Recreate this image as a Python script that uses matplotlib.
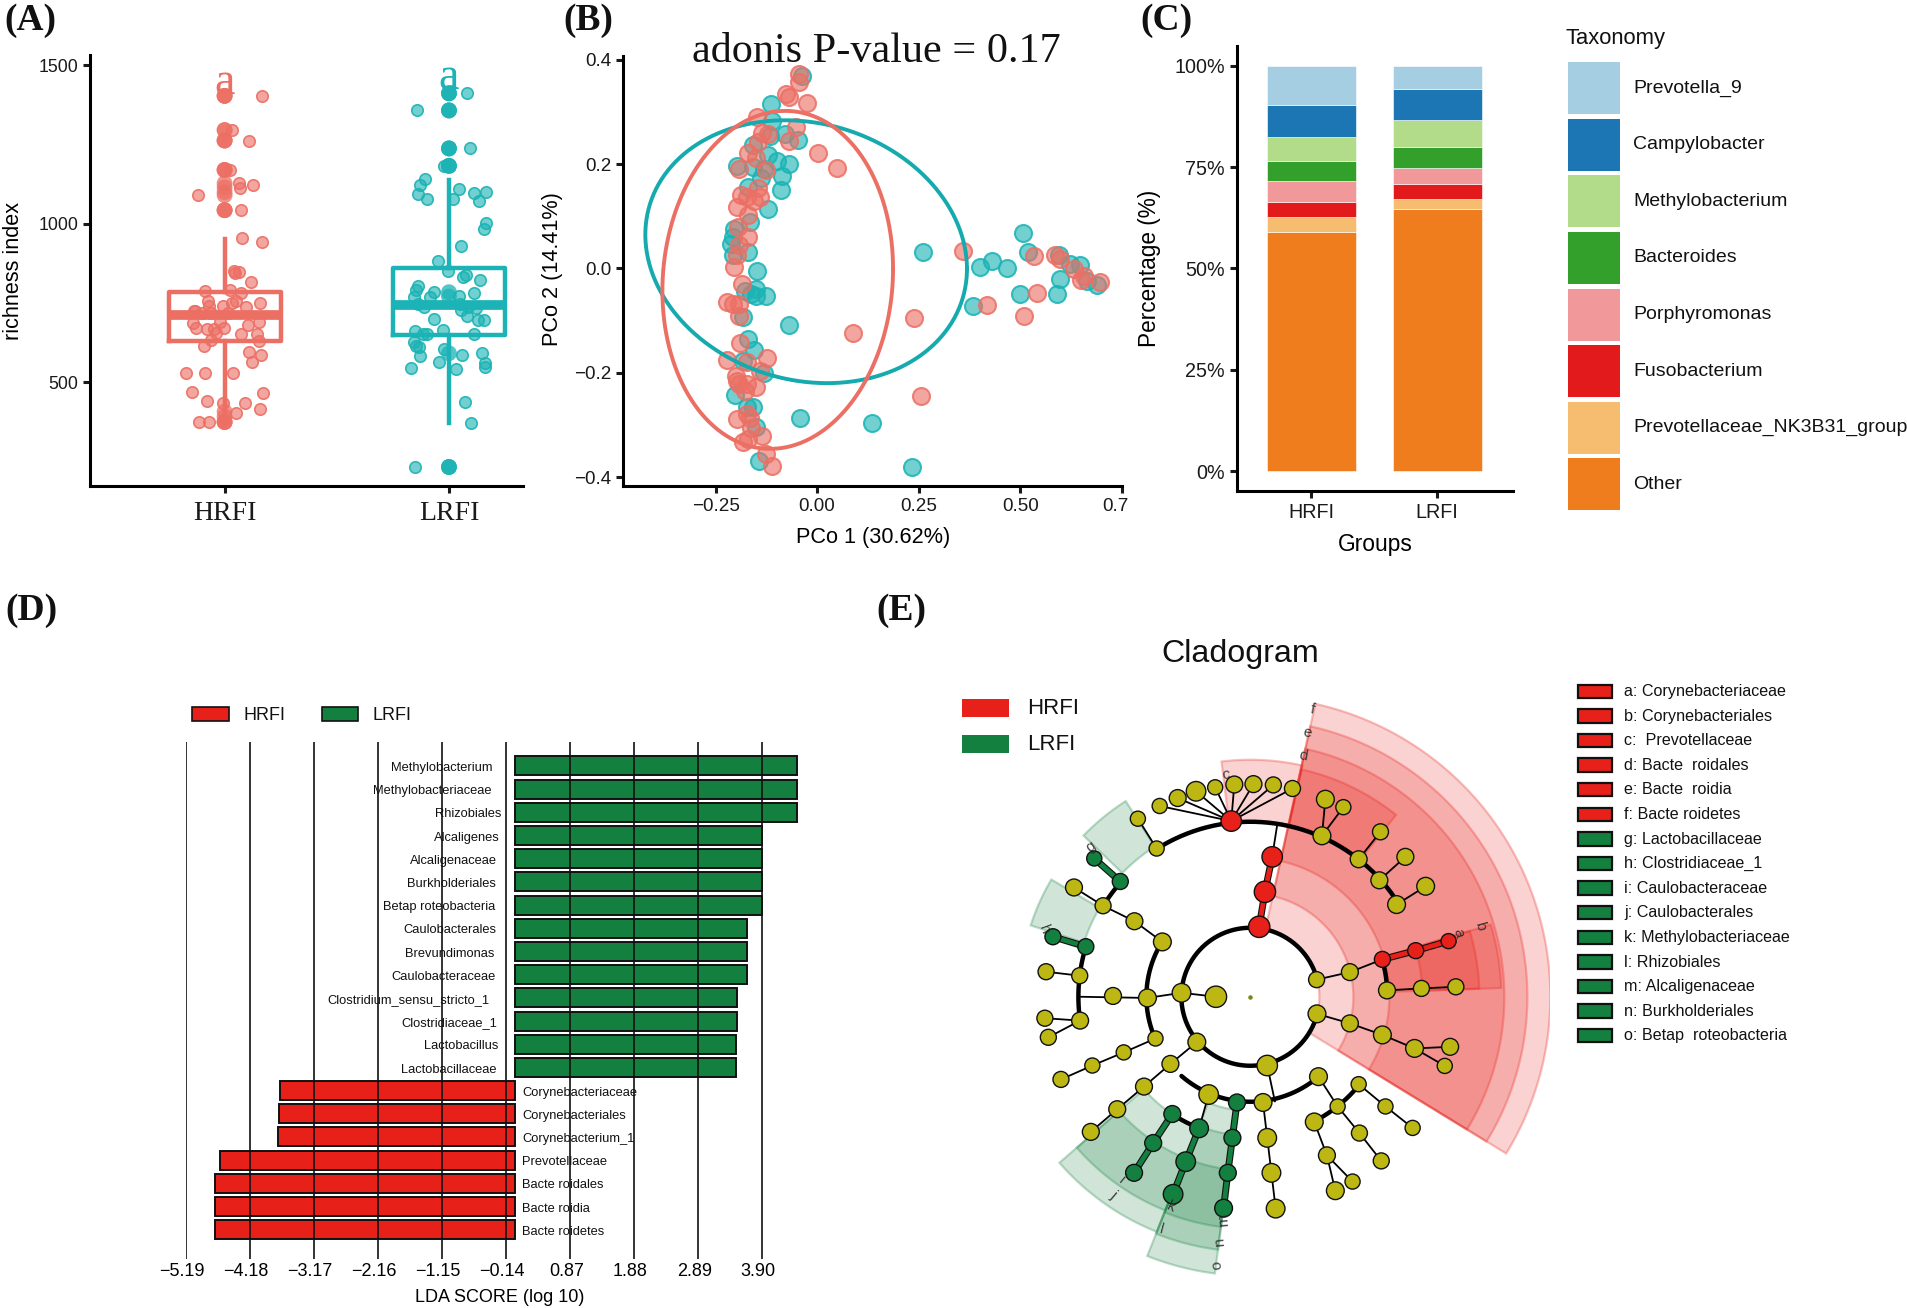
import numpy as np
import matplotlib
matplotlib.use("Agg")
import matplotlib.pyplot as plt
from matplotlib.colors import to_rgba
from matplotlib.patches import Rectangle
from matplotlib.transforms import ScaledTranslation

plt.rcParams['font.family'] = ['Liberation Sans', 'DejaVu Sans']

W, H = 1908, 1308
SALMON, TEAL = '#EC6F64', '#1BB3B5'
RED, GREEN = '#E8201A', '#148040'
OLIVE = '#BDB714'

# ---- Panel A: richness index ----
groups_a = ['HRFI', 'LRFI']
hrfi_jit = [.165,0,0,0,.033,0,0,0,0,0,.11,.022,0,0,0,.065,.125,.067,0,0,0,0,-.12,.075,0,0,0,.076,.165,.041,.062,.046,.116,.025,
            -.086,-.073,-.07,.075,.156,.033,.05,-.006,.097,-.138,.017,-.134,-.102,-.14,-.129,-.078,-.046,-.003,-.038,-.062,-.022,
            .105,.153,.145,.073,.153,-.094,-.062,.108,.161,.122,-.17,-.086,.038,-.146,.169,-.078,-.006,.089,.157,.049,0,0,0,0,0,-.114,-.07]
hrfi_val = [1404,1404,1404,1404,1296,1296,1296,1263,1263,1263,1263,1170,1170,1170,1170,1128,1124,1113,1128,1115,1100,1090,1090,1043,1043,1043,1043,
            956,944,852,849,844,817,790,787,757,740,781,749,751,757,740,737,724,718,724,718,686,672,669,669,672,656,718,691,680,689,653,653,631,615,634,
            595,587,563,530,529,530,470,467,440,434,434,415,401,407,391,374,374,374,374,374]
lrfi_jit = [.08,0,0,0,-.143,0,0,0,0,0,0,.092,-.02,0,0,0,-.108,-.127,.046,.165,.111,-.14,-.1,.016,.135,.165,.156,.054,-.048,-.006,.078,.064,.14,
            -.137,-.148,-.068,0,.111,-.156,-.084,0,.043,-.137,-.111,.05,.083,.122,.054,-.068,.08,.13,.154,-.025,-.153,-.116,-.1,.111,-.156,-.148,-.132,
            -.02,0,-.127,.059,.146,-.045,.162,.159,-.169,.03,.072,.099,-.151,0,0,0]
lrfi_val = [1412,1412,1412,1412,1358,1358,1358,1358,1238,1238,1238,1238,1183,1183,1183,1183,1143,1123,1110,1100,1096,1093,1079,1077,1072,1003,984,929,882,850,839,831,821,
            804,792,784,784,781,768,768,770,773,748,737,746,737,735,729,700,708,697,697,666,661,653,653,653,628,615,612,606,591,582,587,593,563,560,549,544,542,
            438,370,232,232,232,232]
box_med = [713, 743]
box_q1 = [631, 650]
box_q3 = [784, 860]
box_lo = [369, 372]
box_hi = [953, 1139]

# ---- Panel B: PCoA ----
b_teal_x = [-.038,-.113,-.11,-.079,-.117,-.046,-.159,-.12,-.1,-.07,-.197,-.159,-.131,-.087,-.138,-.169,-.089,-.12,-.166,-.204,-.206,-.213,-.169,-.206,-.147,
            -.178,-.15,-.126,-.164,-.15,-.183,-.069,-.169,-.155,-.183,-.131,-.202,-.159,-.173,-.041,-.15,.135,-.143,.234,.26,.4,.43,.467,.507,.519,.595,.623,.647,.598,.499,.59,.383,.689,.665]
b_teal_y = [.368,.315,.282,.257,.253,.246,.236,.218,.205,.2,.196,.195,.191,.178,.173,.157,.15,.114,.088,.076,.061,.047,.032,.025,-.005,
            -.043,-.039,-.053,-.05,-.053,-.094,-.109,-.136,-.156,-.177,-.201,-.242,-.266,-.266,-.287,-.304,-.297,-.369,-.38,.031,.002,.014,.001,.067,.031,.025,.009,.006,-.021,-.05,-.05,-.072,-.032,-.025]
b_salm_x = [-.044,-.044,-.076,-.07,-.025,-.148,-.051,-.136,-.122,-.145,-.07,-.171,-.15,.002,.049,-.192,-.126,-.145,-.188,-.14,-.173,-.155,-.197,-.169,-.194,-.169,-.192,-.197,-.205,-.185,
            -.221,-.206,-.192,-.192,-.189,-.173,-.123,-.221,-.14,-.2,-.197,-.15,-.173,-.178,-.192,-.173,-.197,-.166,-.164,-.136,-.183,-.169,-.126,-.112,.359,.418,.239,.089,.255,.509,.541,.533,.587,.599,.632,.651,.656,.696]
b_salm_y = [.372,.358,.335,.329,.318,.291,.271,.26,.257,.243,.245,.222,.212,.221,.192,.19,.188,.154,.14,.136,.136,.129,.117,.102,.08,.061,.045,.025,.002,-.03,
            -.065,-.069,-.069,-.092,-.143,-.179,-.171,-.175,-.196,-.207,-.216,-.227,-.222,-.235,-.222,-.28,-.289,-.287,-.306,-.322,-.332,-.328,-.356,-.378,.033,-.07,-.096,-.124,-.244,-.092,-.048,.023,.026,.018,-.001,-.022,-.014,-.027]
# ellipse: centre x, centre y, half-width, half-height, skew
ell_teal = (-.027, .032, .396, .252, -.13)
ell_salm = (-.097, -.022, .284, .324, .065)

# ---- Panel C: composition ----
taxa = ['Other', 'Prevotellaceae_NK3B31_group', 'Fusobacterium', 'Porphyromonas', 'Bacteroides',
        'Methylobacterium', 'Campylobacter', 'Prevotella_9']
taxa_colors = ['#EF7D1E', '#F6BC70', '#E31A1C', '#F1989B', '#33A02C', '#B2DB8A', '#1C76B4', '#A6CEE3']
hrfi_pct = [58.9, 3.9, 3.5, 5.2, 5.1, 5.8, 7.8, 9.8]
lrfi_pct = [64.6, 2.5, 3.7, 3.9, 5.2, 6.6, 7.8, 5.7]

# ---- Panel D: LDA ----
lda_names = ['Methylobacterium', 'Methylobacteriaceae', 'Rhizobiales', 'Alcaligenes', 'Alcaligenaceae', 'Burkholderiales',
             'Betap roteobacteria', 'Caulobacterales', 'Brevundimonas', 'Caulobacteraceae', 'Clostridium_sensu_stricto_1',
             'Clostridiaceae_1', 'Lactobacillus', 'Lactobacillaceae', 'Corynebacteriaceae', 'Corynebacteriales',
             'Corynebacterium_1', 'Prevotellaceae', 'Bacte roidales', 'Bacte roidia', 'Bacte roidetes']
lda_vals = [4.447, 4.447, 4.447, 3.894, 3.894, 3.894, 3.894, 3.655, 3.655, 3.655, 3.506, 3.506, 3.49, 3.49,
            -3.71, -3.73, -3.745, -4.66, -4.74, -4.74, -4.74]
lda_ticks = [-5.19, -4.18, -3.17, -2.16, -1.15, -0.14, 0.87, 1.88, 2.89, 3.90]
lda_name_end = [-.355, -.371, -.223, -.239, -.28, -.297, -.313, -.289, -.322, -.305, -.396, -.28, -.264, -.297]

# ---- Panel E: cladogram (node positions as read, radius in the same units) ----
yellow_nodes = [(895,273,18),(845,264,18),(793,262,19),(743,263,19),(693,270,17),(643,280,22),(595,297,19),(548,317,17),(491,349,17),(540,424,17),
    (324,522,19),(400,568,18),(482,607,19),(555,659,20),(251,734,18),(339,744,18),(426,795,19),(516,800,20),(605,787,21),(695,797,24),(248,851,18),(340,857,19),
    (257,899,18),(537,902,17),(454,937,17),(372,970,17),(290,1005,18),(645,911,20),(576,966,19),(507,1023,19),(437,1080,19),(368,1137,19),(676,1043,22),
    (818,1063,20),(829,970,23),(829,1152,21),(840,1240,21),(851,1330,21),(963,998,20),(1068,1017,17),(1013,1073,17),(1138,1073,17),(1209,1127,17),(952,1112,20),
    (1070,1140,18),(1127,1210,18),(985,1196,19),(1052,1262,17),(1007,1285,20),(958,754,18),(1045,735,19),(1142,781,19),(1232,776,18),(1322,772,18),(959,840,20),
    (1045,864,19),(1130,893,20),(1214,927,20),(1307,923,19),(1293,971,17),(972,392,20),(981,300,20),(1028,320,17),(1068,451,19),(1125,382,18),(1122,504,19),
    (1190,445,19),(1167,565,20),(1243,519,20)]
red_nodes = [(735,355,23),(842,445,23),(823,533,24),(808,621,24),(1130,703,18),(1217,681,18),(1303,657,17)]
green_nodes = [(377,449,17),(445,507,18),(269,646,18),(355,671,18),(581,1092,19),(651,1128,21),(531,1165,19),(616,1212,22),(481,1240,19),(583,1294,22),
    (750,1063,19),(738,1152,19),(726,1240,19),(715,1329,20)]
thin_chains = [[(735,355),(895,273)],[(735,355),(845,264)],[(735,355),(793,262)],[(735,355),(743,263)],[(735,355),(693,270)],[(735,355),(643,280)],
    [(735,355),(595,297)],[(735,355),(548,317)],[(491,349),(540,424)],[(324,522),(400,568),(482,607),(555,659)],[(339,744),(251,734)],[(340,857),(248,851)],
    [(340,857),(257,899)],[(537,902),(454,937),(372,970),(290,1005)],[(645,911),(576,966),(507,1023),(437,1080),(368,1137)],[(676,1043),(651,1128)],
    [(818,1063),(829,1152),(840,1240),(851,1330)],[(963,998),(1013,1073)],[(1068,1017),(1138,1073),(1209,1127)],[(1013,1073),(1070,1140),(1127,1210)],
    [(952,1112),(985,1196),(1007,1285)],[(985,1196),(1052,1262)],[(958,754),(1045,735),(1130,703)],[(1142,781),(1232,776),(1322,772)],
    [(959,840),(1045,864),(1130,893),(1214,927),(1307,923)],[(1214,927),(1293,971)],[(972,392),(981,300)],[(972,392),(1028,320)],[(1068,451),(1125,382)],
    [(1122,504),(1190,445)],[(1167,565),(1243,519)],[(340,797),(516,800),(605,787),(695,797)],[(829,970),(849,1060)],[(855,365),(842,445)]]
red_chains = [[(808,621),(823,533),(842,445)],[(1130,703),(1217,681),(1303,657)]]
green_chains = [[(445,507),(377,449)],[(355,671),(269,646)],[(750,1063),(738,1152),(726,1240),(715,1329)],
    [(651,1128),(616,1212),(583,1294)],[(581,1092),(531,1165),(481,1240)]]
# arcs: radius, start angle, end angle
clad_arcs = [(69,14.5,345.7),(175,32,122),(104,148,204),(172,163,188),(173,138.5,148.2),(105,229,310),(140,297,321),(141,236,249),(137,2.7,15.7)]
# shaded clades: inner radius, outer radius, start angle, end angle
red_clades = [(69,300,-31.5,77.5),(103,277,-31.5,77.5),(139,254,-31.5,77.5),(176,233,51.3,77.3),(176,237,77.3,97),(138,251,2,16.7),(172,229,2,16.7)]
green_clades = [(178,232,122.5,136),(175,231,149.5,162),(141,253,221,248.3),(174,230,221,248.3),(114,279,248.3,262.7),(139,255,248.3,262.7),(174,232,248.3,262.7)]
clade_letters = [('a',1328,638,-75),('b',1385,620,-75),('c',720,237,5),('d',922,190,-10),('e',933,133,-10),('f',948,75,-10),('g',368,420,35),('h',245,628,-70),
                 ('i',449,1258,-40),('j',427,1296,-40),('k',578,1325,-25),('l',553,1382,-15),('m',715,1358,95),('n',705,1415,95),('o',697,1472,95)]
clad_legend = ['a: Corynebacteriaceae', 'b: Corynebacteriales', 'c:  Prevotellaceae', 'd: Bacte  roidales', 'e: Bacte  roidia', 'f: Bacte roidetes',
               'g: Lactobacillaceae', 'h: Clostridiaceae_1', 'i: Caulobacteraceae', 'j: Caulobacterales', 'k: Methylobacteriaceae', 'l: Rhizobiales',
               'm: Alcaligenaceae', 'n: Burkholderiales', 'o: Betap  roteobacteria']


fig = plt.figure(figsize=(W/100, H/100), dpi=100, facecolor='white')

def px_axes(l, t, r, b):
    return fig.add_axes([l/W, 1-b/H, (r-l)/W, (b-t)/H])

def classic(ax, lw=2.2):
    for s in ('top', 'right'):
        ax.spines[s].set_visible(False)
    for s in ('left', 'bottom'):
        ax.spines[s].set_linewidth(lw)
    ax.tick_params(width=lw, length=5, colors='#1a1a1a')

# overlay in pixel units for panel letters and hand-built legends
ov = fig.add_axes([0, 0, 1, 1], zorder=5)
ov.set_xlim(0, W); ov.set_ylim(H, 0); ov.axis('off')
for txt, x, y in [('(A)', 30, 21), ('(B)', 588, 21), ('(C)', 1166, 21), ('(D)', 31, 610), ('(E)', 901, 611)]:
    ov.text(x, y, txt, family='Liberation Serif', weight='bold', fontsize=27, ha='center', va='center', color='#111')

# ---- A ----
axA = px_axes(90, 55, 523, 486)
bstats = [dict(med=box_med[i], q1=box_q1[i], q3=box_q3[i], whislo=box_lo[i], whishi=box_hi[i], fliers=[]) for i in range(2)]
for i, c in enumerate((SALMON, TEAL)):
    axA.bxp([bstats[i]], positions=[i+1], widths=.5, showcaps=False, showfliers=False, manage_ticks=False,
            boxprops=dict(color=c, lw=3.2), whiskerprops=dict(color=c, lw=3.2), medianprops=dict(color=c, lw=7, solid_capstyle='butt'))
for pos, jit, val, c in ((1, hrfi_jit, hrfi_val, SALMON), (2, lrfi_jit, lrfi_val, TEAL)):
    jit, val = np.array(jit), np.array(val)
    central = jit == 0
    axA.scatter(pos+jit[~central], val[~central], s=68, facecolor=to_rgba(c, .62), edgecolor=to_rgba(c, .9), lw=1.2, zorder=3)
    axA.scatter(pos+jit[central], val[central], s=130, facecolor=to_rgba(c, .75), edgecolor='none', zorder=3)
axA.set_xlim(.40, 2.33); axA.set_ylim(172, 1533)
axA.set_yticks([500, 1000, 1500]); axA.set_xticks([1, 2])
axA.set_xticklabels(groups_a, family='Liberation Serif', fontsize=20, color='#555')
classic(axA)
axA.tick_params(axis='y', labelsize=12.8)
axA.tick_params(axis='x', pad=6)
axA.set_ylabel('richness index', fontsize=15.6, va='center')
axA.yaxis.set_label_coords((13-90)/433, (486-271)/431)
axA.text(1, 1445, 'a', family='Liberation Serif', fontsize=33, color=SALMON, ha='center', va='center')
axA.text(2, 1460, 'a', family='Liberation Serif', fontsize=33, color=TEAL, ha='center', va='center')

# ---- B ----
axB = px_axes(623.4, 55.6, 1122.5, 486.4)
axB.scatter(b_teal_x, b_teal_y, s=150, facecolor=to_rgba(TEAL, .62), edgecolor=to_rgba(TEAL, .85), lw=1.5, zorder=2)
axB.scatter(b_salm_x, b_salm_y, s=150, facecolor=to_rgba(SALMON, .62), edgecolor=to_rgba(SALMON, .85), lw=1.5, zorder=3)
t = np.linspace(0, 2*np.pi, 300)
for (cx, cy, rx, ry, rho), c in ((ell_teal, '#15AAAE'), (ell_salm, SALMON)):
    axB.plot(cx+rx*np.cos(t), cy+ry*(rho*np.cos(t)+np.sqrt(1-rho**2)*np.sin(t)), color=c, lw=2.8, zorder=4)
axB.set_xlim(-.477, .752); axB.set_ylim(-.418, .408)
axB.set_xticks([-.25, 0, .25, .5, .75]); axB.set_xticklabels(['\u22120.25', '0.00', '0.25', '0.50', '0.7'])
axB.set_yticks([-.4, -.2, 0, .2, .4]); axB.set_yticklabels(['\u22120.4', '\u22120.2', '0.0', '0.2', '0.4'])
classic(axB)
axB.tick_params(labelsize=13.6)
lab = axB.get_xticklabels()[-1]
lab.set_transform(lab.get_transform()+ScaledTranslation(-6/100, 0, fig.dpi_scale_trans))
axB.set_xlabel('PCo 1 (30.62%)', fontsize=15.6)
axB.xaxis.set_label_coords((873-623.4)/499.1, (486.4-537)/430.8)
axB.xaxis.label.set_va('center')
axB.set_ylabel('PCo 2 (14.41%)', fontsize=15.6, va='center')
axB.yaxis.set_label_coords((553-623.4)/499.1, (486.4-269)/430.8)
ov.text(876, 52, 'adonis P-value = 0.17', family='Liberation Serif', fontsize=30.4, ha='center', va='center', color='#111')

# ---- C ----
axC = px_axes(1236.6, 45.8, 1513, 491)
for j, vals in enumerate((hrfi_pct, lrfi_pct)):
    axC.bar([j+1]*8, vals, bottom=np.r_[0, np.cumsum(vals)[:-1]], width=.71, color=taxa_colors, edgecolor='white', linewidth=.4)
axC.set_xlim(.404, 2.604); axC.set_ylim(-4.86, 104.9)
axC.set_xticks([1, 2]); axC.set_xticklabels(groups_a)
axC.set_yticks([0, 25, 50, 75, 100]); axC.set_yticklabels(['0%', '25%', '50%', '75%', '100%'])
classic(axC)
axC.tick_params(labelsize=14.2)
axC.set_xlabel('Groups', fontsize=16.4)
axC.xaxis.set_label_coords((1375-1236.6)/276.4, (491-545)/445.2)
axC.xaxis.label.set_va('center')
axC.set_ylabel('Percentage (%)', fontsize=16.3, va='center')
axC.yaxis.set_label_coords((1150-1236.6)/276.4, (491-268.5)/445.2)
ov.text(1566, 38.5, 'Taxonomy', fontsize=15.8, va='center', color='#111')
for k, (name, col) in enumerate(zip(taxa[::-1], taxa_colors[::-1])):
    top = 62.1+k*56.6
    ov.add_patch(Rectangle((1567.7, top), 52.8, 52.2, facecolor=col, edgecolor='none'))
    ov.text(1633, top+26, name, fontsize=14, va='center', color='#111')

# ---- D ----
axD = px_axes(186, 742.4, 797.6, 1258.5)
ypos = np.arange(len(lda_vals))
axD.barh(ypos, lda_vals, height=.82, color=[GREEN if v > 0 else RED for v in lda_vals], edgecolor='#111', linewidth=1.4, zorder=2)
axD.vlines(lda_ticks, -1.016, 21.24, color='#111', lw=1.2, zorder=3)
axD.set_xlim(-5.19, 4.456); axD.set_ylim(21.24, -1.016)
for s in axD.spines.values():
    s.set_visible(False)
axD.set_yticks([])
axD.set_xticks(lda_ticks); axD.set_xticklabels([f'{v:.2f}'.replace('-', '\u2212') for v in lda_ticks], fontsize=13)
axD.tick_params(axis='x', length=0, pad=3.5)
for lab in axD.get_xticklabels():
    lab.set_transform(lab.get_transform()+ScaledTranslation(-4/100, 0, fig.dpi_scale_trans))
axD.set_xlabel('LDA SCORE (log 10)', fontsize=13)
axD.xaxis.set_label_coords((499.5-186)/611.6, (1258.5-1298)/516.1)
axD.xaxis.label.set_va('center')
for i, name in enumerate(lda_names):
    if lda_vals[i] > 0:
        axD.text(lda_name_end[i], i+.09, name, fontsize=9.3, ha='right', va='center', zorder=4, color='#111')
    else:
        axD.text(.11, i+.09, name, fontsize=9.3, ha='left', va='center', zorder=4, color='#111')
for x0, c, lbl, tx in ((192, RED, 'HRFI', 243.7), (321.6, GREEN, 'LRFI', 373)):
    ov.add_patch(Rectangle((x0, 707.4), 36.8, 14, facecolor=c, edgecolor='#111', lw=1.2))
    ov.text(tx, 715.5, lbl, fontsize=13, va='center', color='#111')

# ---- E ----
fx, fy = 1568/600, 1560/620
cxE, cyE = 785, 797
axE = px_axes(950, 680, 1550, 1300)
axE.set_xlim(0, 1568); axE.set_ylim(1560, 0); axE.axis('off')
axE.patch.set_alpha(0)

def polar(r, a):
    a = np.radians(a)
    return cxE+fx*r*np.cos(a), cyE-fy*r*np.sin(a)

for clades, col in ((red_clades, RED), (green_clades, GREEN)):
    for r0, r1, a0, a1 in clades:
        ang = np.linspace(a0, a1, 80)
        xo, yo = polar(r1, ang)
        xi, yi = polar(r0, ang[::-1])
        axE.fill(np.r_[xo, xi], np.r_[yo, yi], facecolor=to_rgba(col, .2), edgecolor=to_rgba(col, .28), lw=1.6, zorder=1)
for r, a0, a1 in clad_arcs:
    xa, ya = polar(r, np.linspace(a0, a1, 200))
    axE.plot(xa, ya, color='black', lw=3.2, zorder=2, solid_capstyle='round')
for ch in thin_chains:
    axE.plot(*zip(*ch), color='black', lw=1.3, zorder=2)
for chains, col in ((red_chains, RED), (green_chains, GREEN)):
    for ch in chains:
        axE.plot(*zip(*ch), color='#111', lw=5, zorder=2)
        axE.plot(*zip(*ch), color=col, lw=3.4, zorder=2.1)
for nodes, col in ((yellow_nodes, OLIVE), (red_nodes, RED), (green_nodes, GREEN)):
    xs, ys, rs = zip(*nodes)
    axE.scatter(xs, ys, s=(.64*np.array(rs))**2, facecolor=col, edgecolor='#111', lw=1, zorder=3)
axE.scatter([cxE], [cyE], s=5, color='#7a8a10', zorder=3)
for ch, x, y, rot in clade_letters:
    axE.text(x, y, ch, fontsize=11, rotation=rot, ha='center', va='center', color='#222', alpha=.85, zorder=4)

ov.text(1240.5, 654, 'Cladogram', fontsize=23.2, ha='center', va='center', color='#111')
for y0, c, lbl in ((699, RED, 'HRFI'), (735, GREEN, 'LRFI')):
    ov.add_patch(Rectangle((962, y0), 46.7, 17.5, facecolor=c, edgecolor='none'))
    ov.text(1027, y0+9, lbl, fontsize=16, va='center', color='#111')
for k, name in enumerate(clad_legend):
    y0 = 684.5+k*24.6
    ov.add_patch(Rectangle((1578, y0), 34, 13.4, facecolor=RED if k < 6 else GREEN, edgecolor='#111', lw=1.6))
    ov.text(1624, y0+7, name, fontsize=11.6, va='center', color='#111')

fig.savefig('out.png', dpi=100)
